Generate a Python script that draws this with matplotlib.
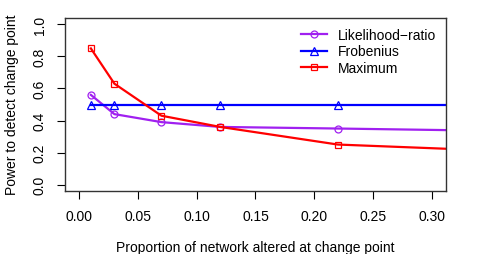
import numpy as np
import matplotlib
matplotlib.use("Agg")
import matplotlib.pyplot as plt

# proportion of network altered
prop = [0.01, 0.03, 0.07, 0.12, 0.22, 0.50]
lik_ratio = [0.56, 0.44, 0.39, 0.36, 0.35, 0.32]
frobenius = [0.50, 0.50, 0.50, 0.50, 0.50, 0.50]
maximum = [0.85, 0.63, 0.43, 0.36, 0.25, 0.17]

xticks = [0.00, 0.05, 0.10, 0.15, 0.20, 0.25, 0.30]
yticks = [0.0, 0.2, 0.4, 0.6, 0.8, 1.0]

plt.rcParams['font.family'] = ['Liberation Sans', 'DejaVu Sans']
plt.rcParams['font.size'] = 10

fig = plt.figure(figsize=(4.8, 2.55), dpi=100)
ax = fig.add_axes([65/480, 1 - 192/255, (446-65)/480, (192-19)/255])

ax.plot(prop, lik_ratio, color='#A020F0', lw=1.6, marker='o', ms=5,
        mfc='none', mew=0.9, label='Likelihood\u2212ratio')
ax.plot(prop, frobenius, color='#0000FF', lw=1.6, marker='^', ms=5.5,
        mfc='none', mew=0.9, label='Frobenius')
ax.plot(prop, maximum, color='#FF0000', lw=1.6, marker='s', ms=5,
        mfc='none', mew=0.9, label='Maximum')

ax.set_xlim(-0.012, 0.312)
ax.set_ylim(-0.04, 1.04)
ax.set_xticks(xticks)
ax.set_xticklabels(['%.2f' % v for v in xticks])
ax.set_yticks(yticks)
ax.set_yticklabels(['%.1f' % v for v in yticks], rotation=90, va='center')
ax.tick_params(direction='out', length=6, width=0.8, pad=7)
for s in ax.spines.values():
    s.set_color('#333333')
    s.set_linewidth(1.0)

# axis titles, placed like R's mtext
fig.text(12/480, 1 - 105/255, 'Power to detect change point',
         rotation=90, ha='center', va='center')
fig.text(255/480, 1 - 248/255, 'Proportion of network altered at change point',
         ha='center', va='center')

leg = ax.legend(loc='upper right', frameon=False, handlelength=1.9,
                borderaxespad=0.3, labelspacing=0.2, handletextpad=0.8)

fig.savefig('out.png', dpi=100)
